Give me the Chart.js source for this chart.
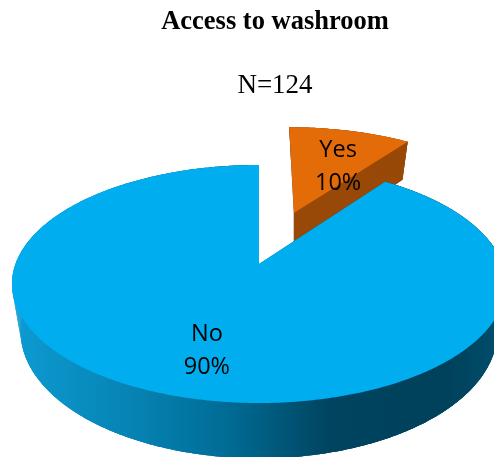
<!DOCTYPE html>
<html>
<head>
<meta charset="utf-8">
<title>Access to washroom</title>
<style>
  html, body { margin: 0; padding: 0; background: #fff; overflow: hidden; }
  canvas { display: block; }
</style>
<script src="https://cdn.jsdelivr.net/npm/chart.js@4"></script>
</head>
<body>
<canvas id="pie" width="550" height="457"></canvas>
<script>
const categories = ['Yes', 'No'];
const shares = [10, 90];
const chartTitle = 'Access to washroom';
const chartSubtitle = 'N=124';

/* perspective of the tilted disc, u and v run from -1 to 1 over the disc */
const disc = {cx: 259, top: 264, floor: 310, rx: 243.5, floorRx: 235, depth: 71.3, persp: -0.168};

function project(u, v, isFloor) {
  const w = 1 + disc.persp * v;
  return {
    x: disc.cx + (isFloor ? disc.floorRx : disc.rx) * u / w,
    y: (disc.depth * v + (isFloor ? disc.floor : disc.top)) / w,
  };
}

/* slice outline as disc coordinates, from first angle to last */
function rimPoints(start, end, shift) {
  const steps = Math.max(2, Math.ceil((end - start) / 0.01));
  const pts = [];
  for(let i = 0; i <= steps; i++){
    const a = start + (end - start) * i / steps;
    pts.push([shift.u + Math.cos(a), shift.v + Math.sin(a)]);
  }
  return pts;
}

function fillPoints(ctx, pts) {
  ctx.beginPath();
  pts.forEach(function(p, i) {
    if(i === 0) ctx.moveTo(p.x, p.y);
    else ctx.lineTo(p.x, p.y);
  });
  ctx.closePath();
  ctx.fill();
}

/* pie slice with a side wall; options.offset is the explode distance in radii */
class TiltedArc extends Chart.ArcElement {
  static id = 'tiltedArc';

  draw(ctx) {
    const {startAngle, endAngle} = this.getProps(['startAngle', 'endAngle'], true);
    const mid = (startAngle + endAngle) / 2;
    const shift = {u: Math.cos(mid) * this.options.offset, v: Math.sin(mid) * this.options.offset};
    const rim = rimPoints(startAngle, endAngle, shift);
    const rimTop = rim.map(function(p) { return project(p[0], p[1], false); });
    const rimFloor = rim.map(function(p) { return project(p[0], p[1], true); });
    const apexTop = project(shift.u, shift.v, false);
    const apexFloor = project(shift.u, shift.v, true);

    ctx.save();
    /* the back cut face of an exploded slice stays hidden behind its top face */
    if(this.options.offset > 0){
      ctx.beginPath();
      ctx.moveTo(rimTop[0].x, -1000);
      ctx.lineTo(rimTop[0].x, rimTop[0].y);
      ctx.lineTo(apexTop.x, apexTop.y);
      ctx.lineTo(apexTop.x, 1000);
      ctx.lineTo(9999, 1000);
      ctx.lineTo(9999, -1000);
      ctx.closePath();
      ctx.clip();
    }

    /* walls first, the top face goes over them */
    ctx.fillStyle = this.options.borderColor;
    fillPoints(ctx, [apexFloor].concat(rimFloor));
    fillPoints(ctx, rimTop.concat(rimFloor.slice().reverse()));
    fillPoints(ctx, [apexTop, rimTop[0], rimFloor[0], apexFloor]);
    fillPoints(ctx, [apexTop, rimTop[rimTop.length - 1], rimFloor[rimFloor.length - 1], apexFloor]);
    /* single quads fill the straight silhouette between the two rims */
    for(let i = 1; i < rim.length; i++){
      fillPoints(ctx, [rimTop[i - 1], rimTop[i], rimFloor[i], rimFloor[i - 1]]);
    }

    ctx.fillStyle = this.options.backgroundColor;
    fillPoints(ctx, [apexTop].concat(rimTop));
    ctx.restore();
  }
}

class TiltedPieController extends Chart.PieController {
  static id = 'tiltedPie';
  static defaults = {...Chart.PieController.defaults, dataElementType: 'tiltedArc'};
}

Chart.register(TiltedArc, TiltedPieController);

/* category name and percentage, written on the top face of each slice */
const sliceLabels = {
  id: 'sliceLabels',
  afterDatasetsDraw: function(chart, args, opts) {
    const ctx = chart.ctx;
    const dataset = chart.data.datasets[0];
    ctx.save();
    ctx.font = opts.font;
    ctx.fillStyle = opts.color;
    ctx.textAlign = 'center';
    ctx.textBaseline = 'middle';
    chart.getDatasetMeta(0).data.forEach(function(arc, i) {
      const mid = (arc.startAngle + arc.endAngle) / 2;
      const a = mid + opts.turn[i] * Math.PI / 180;
      const off = dataset.offset[i];
      const p = project(
        Math.cos(mid) * off + Math.cos(a) * opts.radius[i],
        Math.sin(mid) * off + Math.sin(a) * opts.radius[i],
        false
      );
      ctx.fillText(chart.data.labels[i], p.x, p.y - opts.lineGap / 2);
      ctx.fillText(dataset.data[i] + '%', p.x, p.y + opts.lineGap / 2);
    });
    ctx.restore();
  },
};

const ctx = document.getElementById('pie').getContext('2d');

const blueWall = ctx.createLinearGradient(12, 0, 494, 0);
blueWall.addColorStop(0, '#0d9bd2');
blueWall.addColorStop(0.25, '#0683b3');
blueWall.addColorStop(0.45, '#006b95');
blueWall.addColorStop(0.66, '#00445f');
blueWall.addColorStop(0.9, '#00415b');
blueWall.addColorStop(1, '#004c6a');

const chart = new Chart(ctx, {
  type: 'tiltedPie',
  data: {
    labels: categories,
    datasets: [{
      data: shares,
      backgroundColor: ['#e36c09', '#00aeef'],
      borderColor: ['#984807', blueWall],
      offset: [0.5, 0],
    }],
  },
  plugins: [sliceLabels],
  options: {
    responsive: false,
    animation: false,
    devicePixelRatio: 1,
    plugins: {
      legend: {display: false},
      tooltip: {enabled: false},
      title: {
        display: true,
        text: chartTitle,
        color: '#000',
        font: {family: '"Liberation Serif"', size: 26.5, weight: 'bold'},
        padding: {top: 6, bottom: 32},
      },
      subtitle: {
        display: true,
        text: chartSubtitle,
        color: '#000',
        font: {family: '"Liberation Serif"', size: 27, weight: 'normal'},
        padding: 0,
      },
      sliceLabels: {
        font: '23.5px "Open Sans"',
        color: '#000',
        lineGap: 33,
        radius: [0.55, 0.69],
        turn: [6, -2],
      },
    },
  },
});
</script>
</body>
</html>
